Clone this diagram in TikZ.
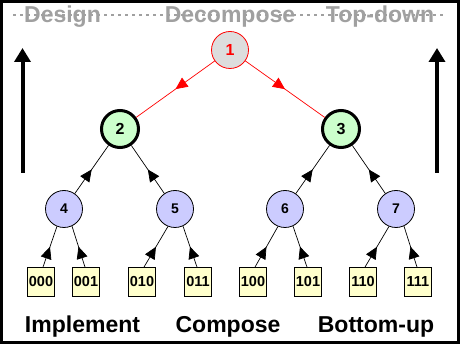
\documentclass[tikz,border=0pt]{standalone}
\usepackage{fontspec}
\setmainfont{Liberation Sans}
\usetikzlibrary{arrows.meta,decorations.markings}
\definecolor{topfill}{HTML}{DDDDDD}
\definecolor{greenfill}{HTML}{CCFFCC}
\definecolor{bluefill}{HTML}{CCCCFF}
\definecolor{leaffill}{HTML}{FFFFCC}
\definecolor{titlegray}{HTML}{A0A0A0}
\begin{document}
\begin{tikzpicture}[x=1pt,y=-1pt,
  topn/.style={circle, draw=red, line width=0.8pt, fill=topfill, minimum size=37pt, inner sep=0pt, text=red, font=\fontsize{16}{16}\selectfont\bfseries},
  midn/.style={circle, draw=black, line width=3pt, fill=greenfill, minimum size=37pt, inner sep=0pt, font=\fontsize{16}{16}\selectfont\bfseries},
  lown/.style={circle, draw=black, line width=0.8pt, fill=bluefill, minimum size=37pt, inner sep=0pt, font=\fontsize{14}{14}\selectfont\bfseries},
  leafbox/.style={rectangle, draw=black, line width=0.8pt, fill=leaffill, minimum width=27pt, minimum height=29pt, inner sep=0pt, font=\fontsize{14.5}{14.5}\selectfont\bfseries},
  midarrow/.style={postaction={decorate}, decoration={markings, mark=at position 0.5 with {\arrow{Triangle[length=12pt,width=11pt]}}}},
  redlink/.style={draw=red, line width=0.7pt, midarrow, color=red},
  blacklink/.style={draw=black, line width=0.7pt, midarrow},
  bigarrow/.style={line width=4pt, -{Triangle[length=14pt,width=16pt]}},
  titletext/.style={text=titlegray, font=\fontsize{23}{23}\selectfont\bfseries, inner sep=0pt, anchor=base},
  labeltext/.style={font=\fontsize{23}{23}\selectfont\bfseries, inner sep=0pt, anchor=base},
]
\useasboundingbox (0,0) rectangle (460,344);
\fill[white] (0,0) rectangle (460,344);
\draw[line width=3pt] (1.5,1.5) rectangle (458.5,342.5);

% title
\coordinate (tl) at (13,15);
\coordinate (tr) at (443,15);
\draw[titlegray, line width=2pt, dash pattern=on 3pt off 4pt] (tl) -- (tr);
\node[titletext] (tdesign) at (62.5,23) {Design};
\node[titletext] (tdecomp) at (230,23) {Decompose};
\node[titletext] (ttop) at (380,23) {Top-down};

% vertical arrows
\coordinate (la0) at (22.5,173);
\coordinate (la1) at (22.5,48);
\coordinate (ra0) at (437,173);
\coordinate (ra1) at (437,48);
\draw[bigarrow] (la0) -- (la1);
\draw[bigarrow] (ra0) -- (ra1);

% nodes
\node[topn] (n1) at (230,50) {1};
\node[midn] (n2) at (120,129) {2};
\node[midn] (n3) at (341,129) {3};
\node[lown] (n4) at (64,209) {4};
\node[lown] (n5) at (175,209) {5};
\node[lown] (n6) at (285,209) {6};
\node[lown] (n7) at (396,209) {7};

\node[leafbox] (l0) at (41,282) {000};
\node[leafbox] (l1) at (86,282) {001};
\node[leafbox] (l2) at (142,282) {010};
\node[leafbox] (l3) at (198,282) {011};
\node[leafbox] (l4) at (253,282) {100};
\node[leafbox] (l5) at (308,282) {101};
\node[leafbox] (l6) at (363,282) {110};
\node[leafbox] (l7) at (418,282) {111};

% connectors
\path[redlink] (n1) -- (n2);
\path[redlink] (n1) -- (n3);
\path[blacklink] (n4) -- (n2);
\path[blacklink] (n5) -- (n2);
\path[blacklink] (n6) -- (n3);
\path[blacklink] (n7) -- (n3);
\path[blacklink] ([xshift=2pt]l0.north) -- (n4.-112);
\path[blacklink] ([xshift=-1pt]l1.north) -- (n4.-65);
\path[blacklink] ([xshift=2pt]l2.north) -- (n5.-112);
\path[blacklink] ([xshift=-1pt]l3.north) -- (n5.-65);
\path[blacklink] ([xshift=2pt]l4.north) -- (n6.-112);
\path[blacklink] ([xshift=-1pt]l5.north) -- (n6.-65);
\path[blacklink] ([xshift=2pt]l6.north) -- (n7.-112);
\path[blacklink] ([xshift=-1pt]l7.north) -- (n7.-65);

% bottom labels
\node[labeltext] (limpl) at (82.5,332) {Implement};
\node[labeltext] (lcomp) at (228,332) {Compose};
\node[labeltext] (lbot) at (376,332) {Bottom-up};
\end{tikzpicture}
\end{document}
